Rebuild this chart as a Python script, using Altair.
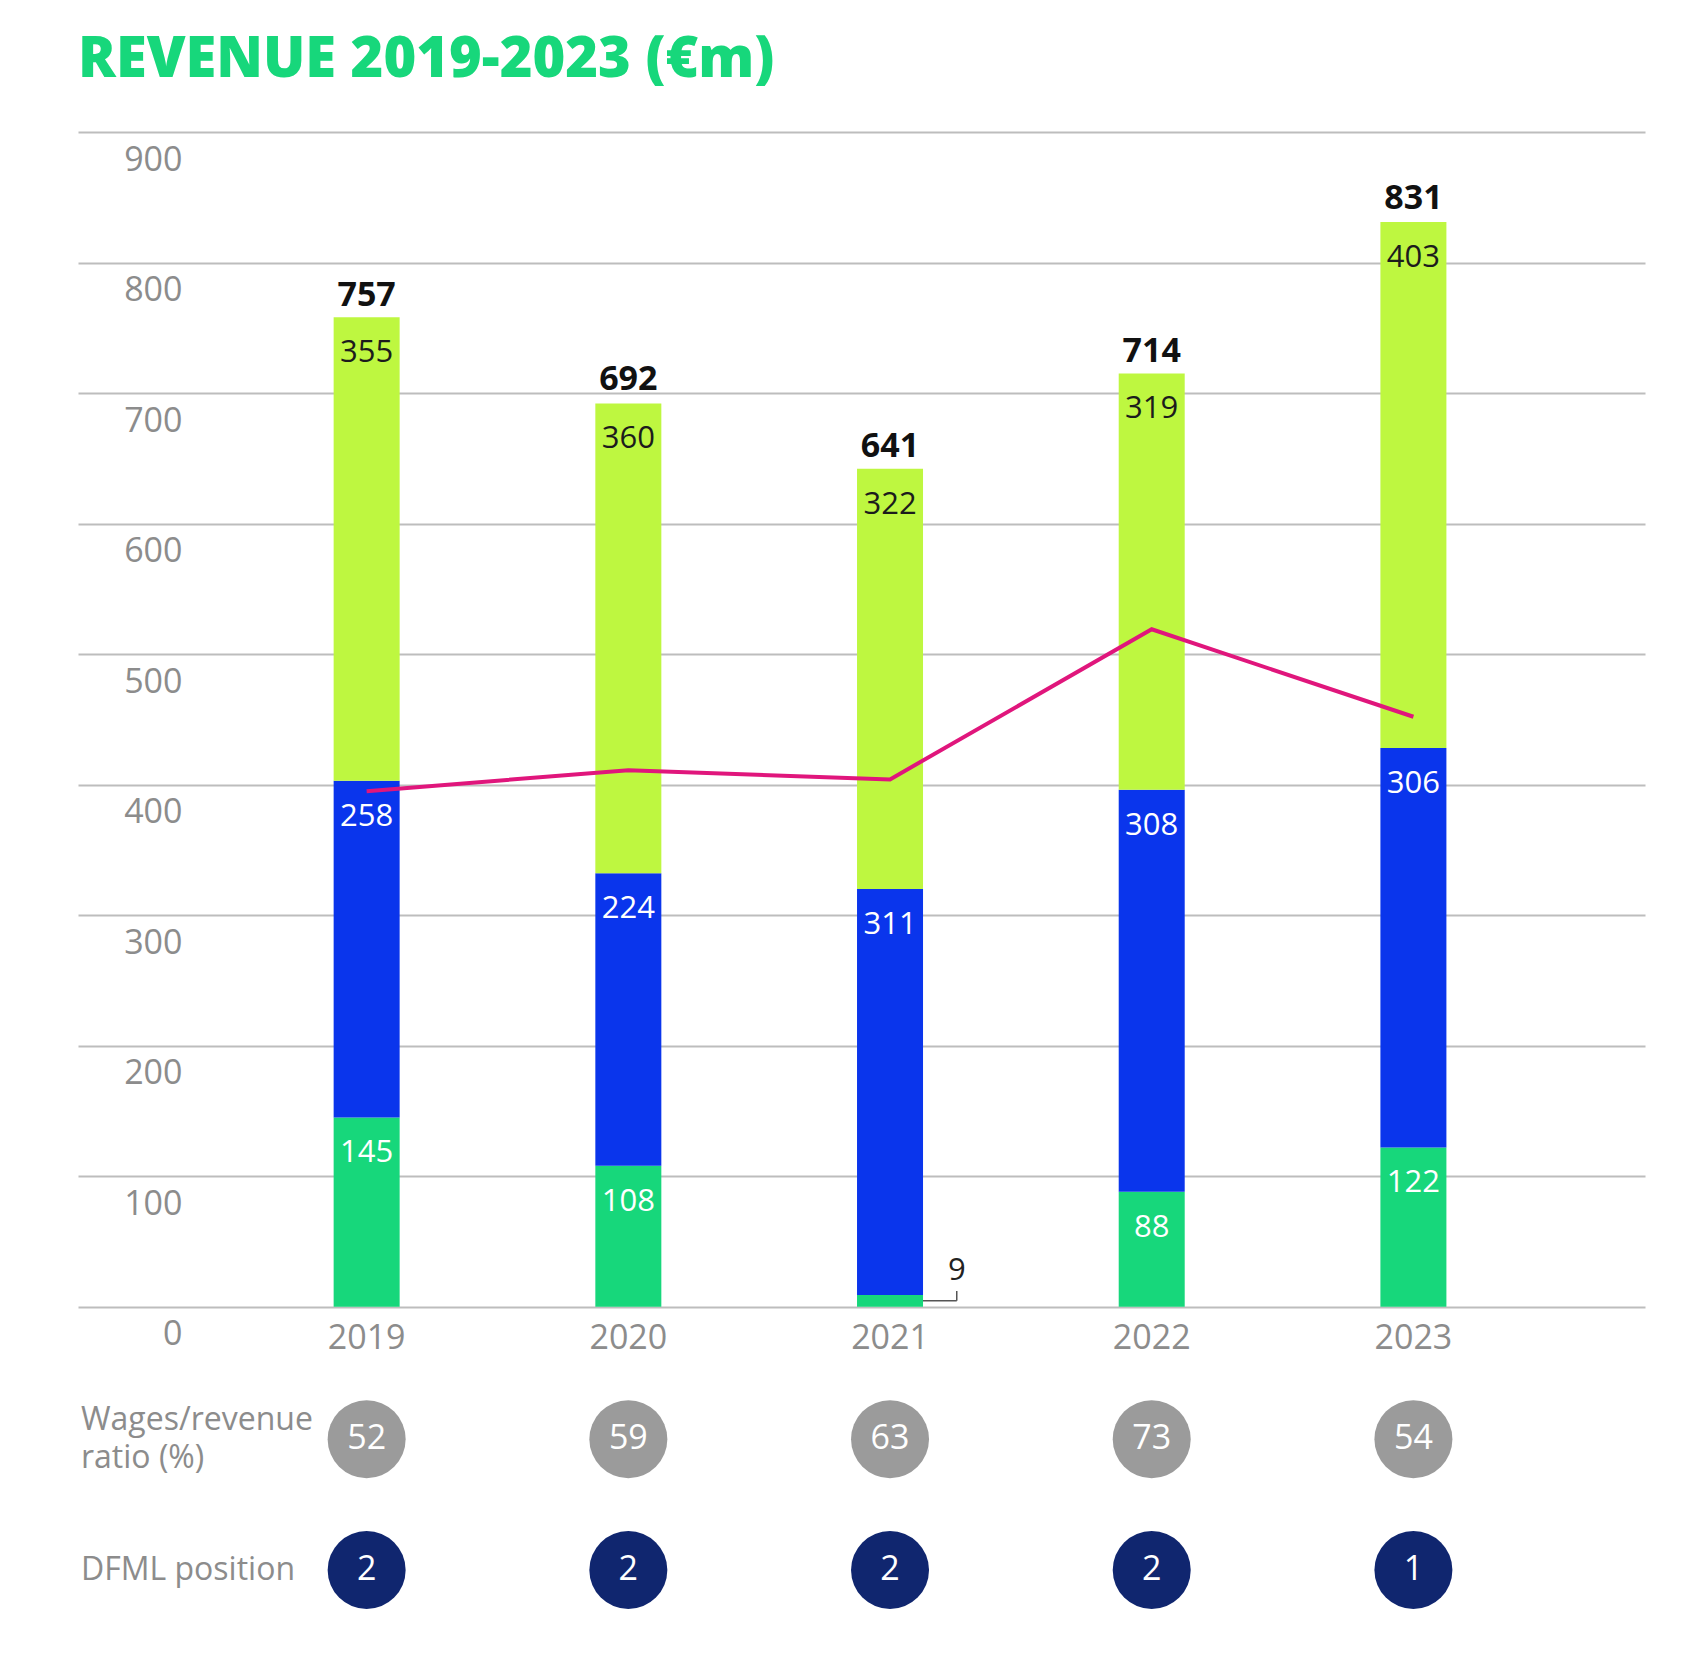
import altair as alt
import pandas as pd

# ---------------- data ----------------
years = [2019, 2020, 2021, 2022, 2023]
matchday = [145, 108, 9, 88, 122]
broadcasting = [258, 224, 311, 308, 306]
commercial = [355, 360, 322, 319, 403]
totals = [757, 692, 641, 714, 831]
wages = [395, 411, 404, 519, 452]
wage_ratio = [52, 59, 63, 73, 54]
dfml_position = [2, 2, 2, 2, 1]
y_ticks = [0, 100, 200, 300, 400, 500, 600, 700, 800, 900]

segments = ["Matchday", "Broadcasting", "Commercial"]
seg_values = [matchday, broadcasting, commercial]

# ---------------- styling / layout constants ----------------
seg_colors = ["#17D77B", "#0A35EC", "#BEF740"]
seg_label_colors = ["#FFFFFF", "#FFFFFF", "#1C1C1C"]
FONT = "Open Sans"
GRAY = "#8C8C8C"
X_MIN, X_MAX = 2017.897, 2023.885
Y_MIN, Y_MAX = -250, 900
ROW_RATIO = -101.5
ROW_POS = -201.7
BAR_PX = 66
BAR_HALF = 0.126    # half bar width in year units
LEADER_X = 0.255    # leader elbow offset in year units

# ---------------- tables ----------------
rows = []
for si, (seg, vals) in enumerate(zip(segments, seg_values)):
    for yi, yr in enumerate(years):
        base = sum(seg_values[k][yi] for k in range(si))
        rows.append({
            "year": yr, "segment": seg, "value": vals[yi], "order": si,
            "base": base, "top": base + vals[yi],
            "lcolor": seg_label_colors[si],
        })
seg_df = pd.DataFrame(rows)

year_df = pd.DataFrame({
    "year": years, "total": totals, "wages": wages,
    "ratio": wage_ratio, "pos": dfml_position,
    "row_ratio": [ROW_RATIO] * len(years), "row_pos": [ROW_POS] * len(years),
    "zero": [0] * len(years),
})

small = seg_df[(seg_df["value"] < 20)].copy()
small["x1"] = small["year"] + BAR_HALF
small["x2"] = small["year"] + LEADER_X
small["ymid"] = small["value"] / 2
small["ytop"] = small["value"] / 2 + 7.5

ratio_label = pd.DataFrame({"label": ["Wages/revenue\nratio (%)"], "row": [ROW_RATIO], "x": [X_MIN]})
pos_label = pd.DataFrame({"label": ["DFML position"], "row": [ROW_POS], "x": [X_MIN]})

xscale = alt.Scale(domain=[X_MIN, X_MAX], nice=False, zero=False, padding=0)
yscale = alt.Scale(domain=[Y_MIN, Y_MAX], nice=False, zero=False, padding=0)

yaxis = alt.Axis(
    values=y_ticks, domain=False, ticks=False, grid=True,
    gridColor="#BDBDBD", gridWidth=2, labelColor=GRAY, labelFontSize=34,
    labelFont=FONT, labelAlign="right", labelBaseline="middle",
    labelPadding=-104, labelOffset=28, title=None,
)

X = alt.X("year:Q", scale=xscale, axis=None)

bars = alt.Chart(seg_df).mark_bar(size=BAR_PX).encode(
    x=X,
    y=alt.Y("base:Q", scale=yscale, axis=yaxis),
    y2="top:Q",
    color=alt.Color("segment:N", scale=alt.Scale(domain=segments, range=seg_colors), legend=None),
)

seg_labels = alt.Chart(seg_df[seg_df["value"] >= 20]).mark_text(
    font=FONT, fontSize=31, baseline="middle", dy=36
).encode(
    x=X, y=alt.Y("top:Q", scale=yscale),
    text="value:Q",
    color=alt.Color("lcolor:N", scale=None),
)

total_labels = alt.Chart(year_df).mark_text(
    font=FONT, fontSize=34, fontWeight="bold", color="#111111", baseline="middle", dy=-23
).encode(x=X, y=alt.Y("total:Q", scale=yscale), text="total:Q")

wage_line = alt.Chart(year_df).mark_line(color="#E0167C", strokeWidth=4).encode(
    x=X, y=alt.Y("wages:Q", scale=yscale)
)

year_labels = alt.Chart(year_df).mark_text(
    font=FONT, fontSize=34, color=GRAY, baseline="middle", dy=32
).encode(x=X, y=alt.Y("zero:Q", scale=yscale), text="year:N")

ratio_dots = alt.Chart(year_df).mark_point(
    filled=True, shape="circle", size=6084, color="#9B9B9B", opacity=1
).encode(x=X, y=alt.Y("row_ratio:Q", scale=yscale))
ratio_text = alt.Chart(year_df).mark_text(
    font=FONT, fontSize=34, color="#FFFFFF", baseline="middle"
).encode(x=X, y=alt.Y("row_ratio:Q", scale=yscale), text="ratio:Q")

pos_dots = alt.Chart(year_df).mark_point(
    filled=True, shape="circle", size=6084, color="#10266F", opacity=1
).encode(x=X, y=alt.Y("row_pos:Q", scale=yscale))
pos_text = alt.Chart(year_df).mark_text(
    font=FONT, fontSize=34, color="#FFFFFF", baseline="middle"
).encode(x=X, y=alt.Y("row_pos:Q", scale=yscale), text="pos:Q")

ratio_row_text = alt.Chart(ratio_label).mark_text(
    font=FONT, fontSize=32, color=GRAY, align="left", baseline="middle",
    lineBreak="\n", lineHeight=38, dx=3, dy=-19
).encode(x=alt.X("x:Q", scale=xscale), y=alt.Y("row:Q", scale=yscale), text="label:N")

pos_row_text = alt.Chart(pos_label).mark_text(
    font=FONT, fontSize=32, color=GRAY, align="left", baseline="middle", dx=3
).encode(x=alt.X("x:Q", scale=xscale), y=alt.Y("row:Q", scale=yscale), text="label:N")

leader_h = alt.Chart(small).mark_rule(color="#555555", strokeWidth=1.5).encode(
    x=alt.X("x1:Q", scale=xscale), x2="x2:Q", y=alt.Y("ymid:Q", scale=yscale)
)
leader_v = alt.Chart(small).mark_rule(color="#555555", strokeWidth=1.5).encode(
    x=alt.X("x2:Q", scale=xscale), y=alt.Y("ymid:Q", scale=yscale), y2="ytop:Q"
)
small_text = alt.Chart(small).mark_text(
    font=FONT, fontSize=31, color="#222222", baseline="middle", dy=-30
).encode(x=alt.X("x2:Q", scale=xscale), y=alt.Y("ymid:Q", scale=yscale), text="value:Q")

chart = alt.layer(
    bars, wage_line, seg_labels, total_labels, year_labels,
    ratio_dots, ratio_text, pos_dots, pos_text, ratio_row_text, pos_row_text,
    leader_h, leader_v, small_text,
).resolve_scale(color="independent").properties(
    width=1567, height=1501,
    autosize=alt.AutoSizeParams(type="none"),
    padding={"left": 78, "top": 132, "right": 61, "bottom": 28},
    background="white",
    title=alt.TitleParams(
        "REVENUE 2019-2023 (€m)", anchor="start", fontSize=56, font=FONT,
        fontWeight=800, color="#17D77B", offset=43,
    ),
).configure_view(stroke=None)

chart.save("out.html", embed_options={"renderer": "svg", "actions": False})
